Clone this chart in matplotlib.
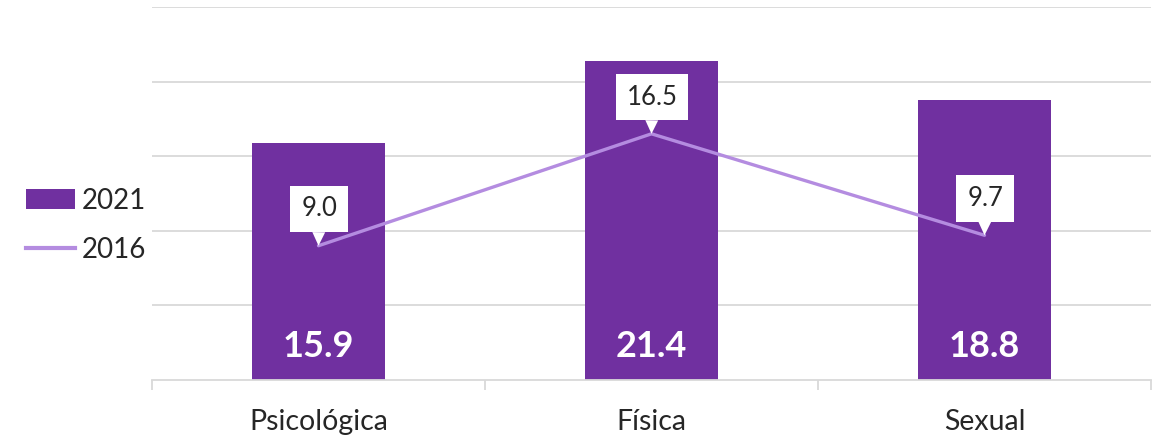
import matplotlib
matplotlib.use("Agg")
import matplotlib.pyplot as plt
from matplotlib.patches import Patch
from matplotlib.lines import Line2D

categories = ["Psicológica", "Física", "Sexual"]
values_2021 = [15.9, 21.4, 18.8]
values_2016 = [9.0, 16.5, 9.7]
series_names = ["2021", "2016"]

BAR_COLOR = "#7030A0"
LINE_COLOR = "#B48CE0"
GRID = "#D9D9D9"
TEXT = "#262626"

plt.rcParams["font.family"] = ["Lato", "DejaVu Sans"]

fig = plt.figure(figsize=(11.58, 4.42), dpi=100)
ax = fig.add_axes([152 / 1158, 1 - 380 / 442, (1151 - 152) / 1158, (380 - 7) / 442])

x = list(range(len(categories)))
ax.bar(x, values_2021, width=0.4, color=BAR_COLOR, zorder=1)
ax.plot(x, values_2016, color=LINE_COLOR, lw=2.4, zorder=2, solid_capstyle="round")

ax.set_xlim(-0.5, len(categories) - 0.5)
ax.set_ylim(0, 25)
ax.set_yticks([5, 10, 15, 20, 25])
ax.yaxis.grid(True, color=GRID, lw=1.3)
ax.set_axisbelow(True)
ax.tick_params(axis="y", left=False, labelleft=False)

for s in ["top", "right", "left"]:
    ax.spines[s].set_visible(False)
ax.spines["bottom"].set_color(GRID)
ax.spines["bottom"].set_linewidth(1.3)

ax.set_xticks([i - 0.5 for i in range(len(categories) + 1)])
ax.set_xticklabels([])
ax.tick_params(axis="x", length=7.5, width=1.3, color=GRID)

for i, c in enumerate(categories):
    ax.annotate(c, xy=(i, 0), xycoords=("data", "axes fraction"),
                xytext=(0, -36), textcoords="offset points",
                ha="center", va="baseline", fontsize=20.5, color=TEXT)

for i, v in enumerate(values_2021):
    ax.text(i, 1.55, f"{v:.1f}", ha="center", va="baseline",
            fontsize=26, fontweight="bold", color="white", zorder=4)

for i, v in enumerate(values_2016):
    ax.annotate(f"{v:.1f}", xy=(i, v), xytext=(0.5, 26.5), textcoords="offset points",
                ha="center", va="center", fontsize=18.5, color=TEXT, zorder=5,
                bbox=dict(boxstyle="square,pad=0.42", fc="white", ec="none"),
                arrowprops=dict(arrowstyle="wedge,tail_width=0.5,shrink_factor=0.5",
                                fc="white", ec="none", shrinkA=0, shrinkB=0))

handles = [Patch(facecolor=BAR_COLOR, edgecolor="none"),
           Line2D([0], [0], color=LINE_COLOR, lw=3)]
fig.legend(handles, series_names, loc="center left",
           bbox_to_anchor=(26 / 1158, 1 - 225.5 / 442), frameon=False,
           fontsize=20, handlelength=1.76, handleheight=0.75, handletextpad=0.25,
           labelspacing=0.85, borderpad=0, borderaxespad=0, labelcolor=TEXT)

fig.savefig("out.png", dpi=100)
